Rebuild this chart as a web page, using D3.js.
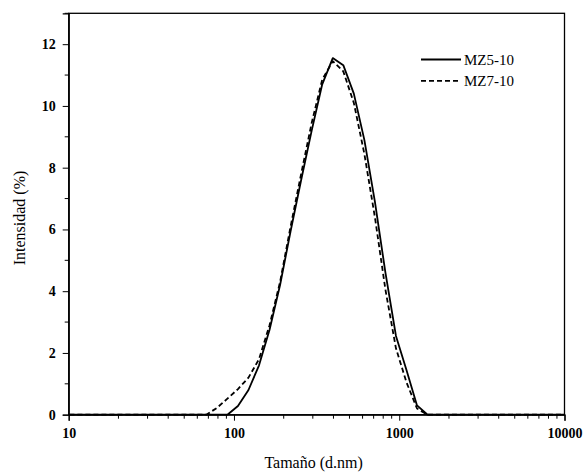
<!DOCTYPE html>
<html>
<head>
<meta charset="utf-8">
<script src="https://cdn.jsdelivr.net/npm/d3@7"></script>
<style>
  html, body { margin: 0; padding: 0; background: #fff; }
  svg { display: block; }
</style>
</head>
<body>
<svg id="chart" width="584" height="472"></svg>
<script>
// ---- data ----
const sizes = [10.10, 11.70, 13.54, 15.69, 18.17, 21.04, 24.36, 28.21, 32.67, 37.84,
  43.82, 50.75, 58.77, 68.06, 78.82, 91.28, 105.7, 122.4, 141.8, 164.2,
  190.1, 220.2, 255.0, 295.3, 342.0, 396.1, 458.7, 531.2, 615.1, 712.4,
  825.0, 955.4, 1106, 1281, 1484, 1718, 1990, 2305, 2669, 3091,
  3580, 4145, 4801, 5560, 6439, 7456, 8635, 10000];
const mz5 = [0, 0, 0, 0, 0, 0, 0, 0, 0, 0,
  0, 0, 0, 0, 0, 0, 0.28, 0.8, 1.6, 2.75,
  4.2, 5.95, 7.6, 9.2, 10.7, 11.55, 11.32, 10.4, 8.9, 6.9,
  4.6, 2.55, 1.45, 0.3, 0, 0, 0, 0, 0, 0,
  0, 0, 0, 0, 0, 0, 0, 0];
const mz7 = [0, 0, 0, 0, 0, 0, 0, 0, 0, 0,
  0, 0, 0, 0, 0.22, 0.52, 0.83, 1.2, 1.8, 2.9,
  4.3, 6.1, 7.8, 9.45, 10.85, 11.45, 11.12, 10.1, 8.45, 6.4,
  4.05, 2.15, 1.05, 0.2, 0, 0, 0, 0, 0, 0,
  0, 0, 0, 0, 0, 0, 0, 0];
const seriesNames = ["MZ5-10", "MZ7-10"];
const xTicks = [10, 100, 1000, 10000];
const yTicks = [0, 2, 4, 6, 8, 10, 12];
const xTitle = "Tamaño (d.nm)";
const yTitle = "Intensidad (%)";

// ---- layout ----
const svg = d3.select("#chart");
const L = 68.7, R = 564.5, T = 13.3, B = 414.7;
const x = d3.scaleLog().domain([10, 10000]).range([L, R]);
const y = d3.scaleLinear().domain([0, 13]).range([B, T]);
const serif = "'Liberation Serif', 'Times New Roman', serif";

// frame
svg.append("rect").attr("x", L).attr("y", T).attr("width", R - L).attr("height", B - T)
  .attr("fill", "none").attr("stroke", "#000").attr("stroke-width", 1.3);

// x axis
const xAxis = d3.axisBottom(x)
  .tickValues(xTicks).tickFormat(d3.format("d")).tickSize(6).tickPadding(7);
const gx = svg.append("g").attr("transform", `translate(0,${B})`).call(xAxis);
// minor x ticks
const minorX = [];
for (let dec = 10; dec < 10000; dec *= 10) for (let k = 2; k <= 9; k++) minorX.push(dec * k);
svg.append("g").selectAll("line").data(minorX).join("line")
  .attr("x1", d => x(d)).attr("x2", d => x(d))
  .attr("y1", B).attr("y2", B + 4).attr("stroke", "#000").attr("stroke-width", 1);

// y axis
const yAxis = d3.axisLeft(y).tickValues(yTicks).tickFormat(d3.format("d")).tickSize(6).tickPadding(7);
const gy = svg.append("g").attr("transform", `translate(${L},0)`).call(yAxis);
const minorY = [1, 3, 5, 7, 9, 11, 13];
svg.append("g").selectAll("line").data(minorY).join("line")
  .attr("x1", L - 4).attr("x2", L)
  .attr("y1", d => y(d)).attr("y2", d => y(d)).attr("stroke", "#000").attr("stroke-width", 1);

[gx, gy].forEach(g => {
  g.select(".domain").attr("stroke", "#000").attr("stroke-width", 1.3);
  g.selectAll(".tick line").attr("stroke", "#000").attr("stroke-width", 1);
  g.selectAll(".tick text").attr("font-family", serif).attr("font-size", 14)
    .attr("font-weight", "bold").attr("fill", "#000");
});

// titles
svg.append("text").attr("x", (L + R) / 2 - 3).attr("y", 468)
  .attr("text-anchor", "middle").attr("font-family", serif).attr("font-size", 16)
  .text(xTitle);
svg.append("text").attr("transform", `translate(25,${(T + B) / 2 + 4}) rotate(-90)`)
  .attr("text-anchor", "middle").attr("font-family", serif).attr("font-size", 16)
  .text(yTitle);

// lines
const line = d3.line().x(d => x(d[0])).y(d => y(d[1]));
const styles = [null, "5,3"];
[mz5, mz7].forEach((vals, i) => {
  svg.append("path")
    .datum(sizes.map((s, j) => [s, vals[j]]))
    .attr("d", line).attr("fill", "none").attr("stroke", "#000")
    .attr("stroke-width", 1.8).attr("stroke-linejoin", "round")
    .attr("stroke-dasharray", styles[i]);
});

// legend
const lg = svg.append("g");
seriesNames.forEach((name, i) => {
  const yy = 59.5 + i * 21.3;
  lg.append("line").attr("x1", 421).attr("x2", 461).attr("y1", yy).attr("y2", yy)
    .attr("stroke", "#000").attr("stroke-width", 1.8).attr("stroke-dasharray", styles[i]);
  lg.append("text").attr("x", 464).attr("y", yy + 5)
    .attr("font-family", serif).attr("font-size", 15).text(name);
});
</script>
</body>
</html>
